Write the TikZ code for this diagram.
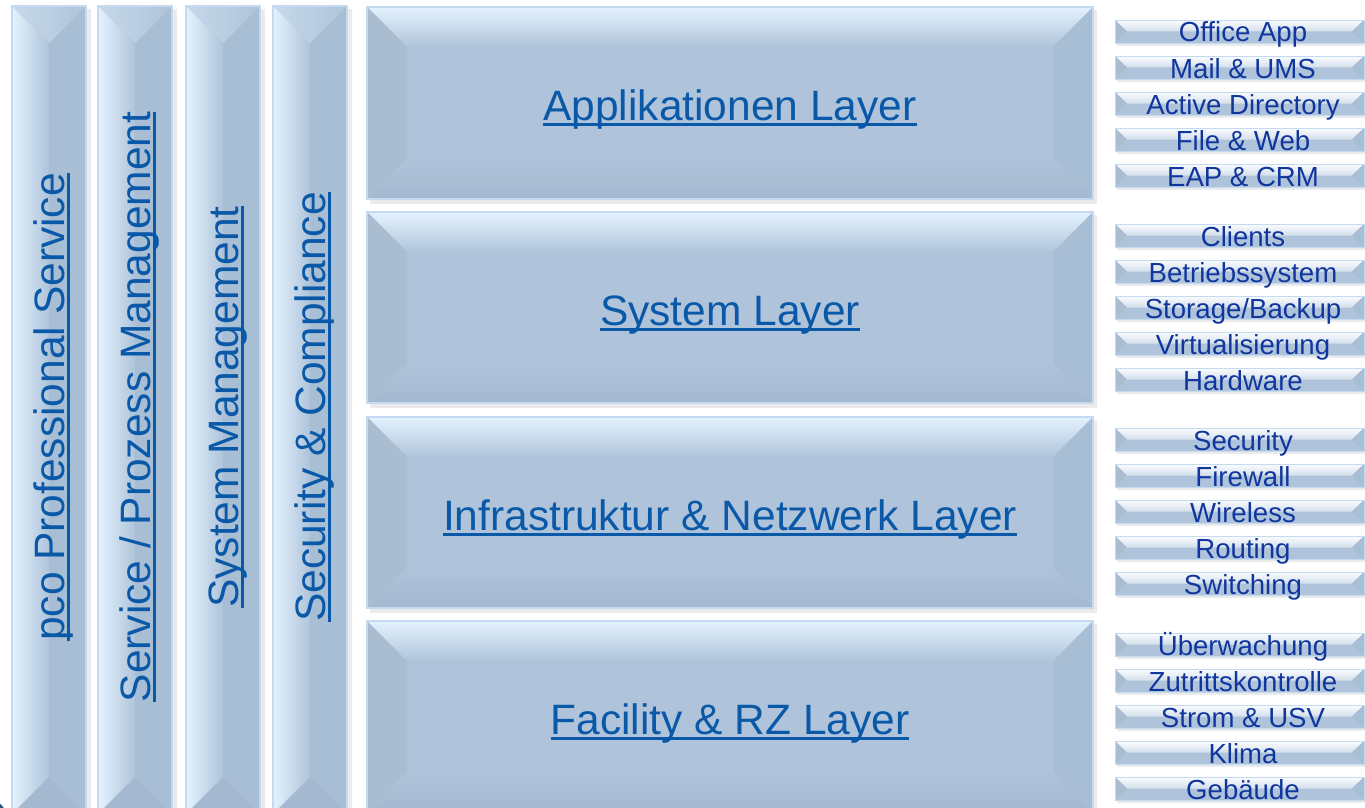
\documentclass[tikz,border=0pt]{standalone}
\usepackage{fontspec}
\setmainfont{Liberation Sans}
\usepackage{xcolor}
\usepackage{tikz}
\usetikzlibrary{calc}

\definecolor{layerblue}{RGB}{175,196,218}
\definecolor{layerlight}{RGB}{228,242,254}
\definecolor{layerleft}{RGB}{170,189,208}
\definecolor{layerright}{RGB}{168,190,212}
\definecolor{layerdark}{RGB}{164,185,207}
\definecolor{layeredge}{RGB}{196,218,240}
\definecolor{linkblue}{RGB}{10,88,168}
\definecolor{navytext}{RGB}{16,54,158}

\newsavebox{\lnkbox}
\newcommand{\lnk}[1]{\sbox{\lnkbox}{#1}\rlap{\rule[-0.14em]{\wd\lnkbox}{0.065em}}\usebox{\lnkbox}}

% big layer box, y top / y bottom
\newcommand{\layerbox}[2]{%
  \fill[black,opacity=0.08] (370,#1+3) rectangle (1097,#2+5);
  \fill[layerblue] (367,#1) rectangle (1093,#2);
  \shade[top color=layerlight,bottom color=layerblue] (367,#1) -- (1093,#1) -- (1053,#1+40) -- (407,#1+40) -- cycle;
  \fill[layerleft] (367,#1) -- (407,#1+40) -- (407,#2-40) -- (367,#2) -- cycle;
  \fill[layerright] (1093,#1) -- (1053,#1+40) -- (1053,#2-40) -- (1093,#2) -- cycle;
  \shade[top color=layerblue,bottom color=layerdark] (367,#2) -- (407,#2-40) -- (1053,#2-40) -- (1093,#2) -- cycle;
  \draw[layeredge,line width=1.2] (367,#1) rectangle (1093,#2);
}
% vertical pillar, x left / x right
\newcommand{\pillar}[2]{%
  \fill[black,opacity=0.08] (#1+3,9) rectangle (#2+5,814);
  \fill[layerblue] (#1,6) rectangle (#2,814);
  \shade[left color=layerlight,right color=layerblue] (#1,6) -- ({(#1+#2)/2},43) -- ({(#1+#2)/2},777) -- (#1,814) -- cycle;
  \fill[layerright] (#2,6) -- ({(#1+#2)/2},43) -- ({(#1+#2)/2},777) -- (#2,814) -- cycle;
  \shade[left color=layerblue!55!layerlight,right color=layerblue] (#1,6) -- (#2,6) -- ({(#1+#2)/2},43) -- cycle;
  \fill[layerdark] (#1,814) -- (#2,814) -- ({(#1+#2)/2},777) -- cycle;
  \draw[layeredge,line width=1.2] (#1,6) rectangle (#2,814);
}
% small item box, y top / name / text
\newcommand{\itembox}[3]{%
  \fill[black,opacity=0.08] (1117,#1+2) rectangle (1366,#1+26);
  \fill[layerblue] (1115,#1) rectangle (1364,#1+23);
  \shade[top color=white!85!layerlight,bottom color=layerblue!55!white] (1115,#1) -- (1364,#1) -- (1352,#1+11.5) -- (1127,#1+11.5) -- cycle;
  \fill[layerleft] (1115,#1) -- (1127,#1+11.5) -- (1115,#1+23) -- cycle;
  \fill[layerright] (1364,#1) -- (1352,#1+11.5) -- (1364,#1+23) -- cycle;
  \draw[layeredge,line width=0.8] (1115,#1) rectangle (1364,#1+23);
  \node[item] (#2) at (1243,#1+22) {#3};
}

\begin{document}
\begin{tikzpicture}[x=1pt,y=-1pt,
    big/.style={anchor=base,inner sep=0pt,text=linkblue,font=\fontsize{42.5}{50}\selectfont},
    side/.style={big,rotate=90},
    item/.style={anchor=base,inner sep=0pt,text=navytext,font=\fontsize{27.6}{32}\selectfont}]
	\useasboundingbox (0,0) rectangle (1365,808);
	\clip (0,0) rectangle (1365,808);
	\fill[white] (0,0) rectangle (1365,808);
	% pillars
	\pillar{12}{86}
	\pillar{98}{172}
	\pillar{186}{260}
	\pillar{273}{347}
	\node[side] (profservice) at (64,407) {\lnk{pco Professional Service}};
	\node[side] (prozessmgmt) at (150,407) {\lnk{Service / Prozess Management}};
	\node[side] (systemmgmt) at (238,407) {\lnk{System Management}};
	\node[side] (compliance) at (325,407) {\lnk{Security \& Compliance}};
	% layers
	\layerbox{7}{199}
	\layerbox{212}{403}
	\layerbox{417}{608}
	\layerbox{621}{812}
	\node[big] (applayer) at (730,120) {\lnk{Applikationen Layer}};
	\node[big] (syslayer) at (730,325) {\lnk{System Layer}};
	\node[big] (netlayer) at (730,530) {\lnk{Infrastruktur \& Netzwerk Layer}};
	\node[big] (rzlayer) at (730,734) {\lnk{Facility \& RZ Layer}};
	% items
	\itembox{20}{officeapp}{Office App}
	\itembox{56}{mailums}{Mail \& UMS}
	\itembox{92}{activedir}{Active Directory}
	\itembox{128}{fileweb}{File \& Web}
	\itembox{164}{eapcrm}{EAP \& CRM}
	\itembox{224}{clients}{Clients}
	\itembox{260}{betriebssys}{Betriebssystem}
	\itembox{296}{storage}{Storage/Backup}
	\itembox{332}{virtual}{Virtualisierung}
	\itembox{368}{hardware}{Hardware}
	\itembox{428}{security}{Security}
	\itembox{464}{firewall}{Firewall}
	\itembox{500}{wireless}{Wireless}
	\itembox{536}{routing}{Routing}
	\itembox{572}{switching}{Switching}
	\itembox{633}{ueberwachung}{Überwachung}
	\itembox{669}{zutritt}{Zutrittskontrolle}
	\itembox{705}{strom}{Strom \& USV}
	\itembox{741}{klima}{Klima}
	\itembox{777}{gebaeude}{Gebäude}
	% corner
	\fill[linkblue!60!black,opacity=0.85] (-20,826) circle (30);
\end{tikzpicture}
\end{document}
